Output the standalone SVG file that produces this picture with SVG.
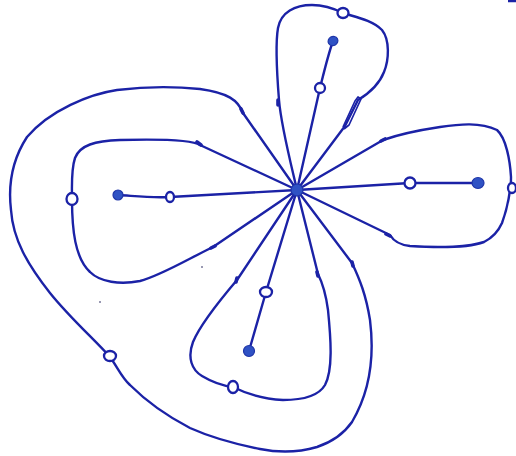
<svg xmlns="http://www.w3.org/2000/svg" width="516" height="456" viewBox="0 0 516 456">
<style>
.e{fill:none;stroke:#1b22a6;stroke-width:2.4;stroke-linecap:round;stroke-linejoin:round}
.d{fill:none;stroke:#1b22a6;stroke-width:1.7;stroke-linejoin:round}
.t{fill:none;stroke:#1b22a6;stroke-width:3.6;stroke-linecap:round}
.h{fill:#ffffff;stroke:#1b22a6;stroke-width:2.3}
.f{fill:#2f52c4;stroke:#1f35a8;stroke-width:1.2}
</style>
<rect width="516" height="456" fill="#ffffff"/>
<g id="connectors">
<path class="e" d="M297,190 C290,160 281,125 279,100 C277,75 275,45 278,28 C281,12 295,5 312,5 C325,5 335,9 343,13 C355,17 372,20 382,30 C390,40 389,60 384,72 C379,85 368,94 358,100 L345,126 L297,190"/>
<path class="d" d="M343,127 L355,101 L358,97 L361,99 L349,125 L344,129"/>
<path class="e" d="M297,190 L200,145 C193,140 160,139 120,140 C95,141 80,145 75,158 C71,170 72,185 72,199 C72,230 75,258 90,272 C100,282 120,285 140,281 C160,276 190,258 213,247 L297,190"/>
<path class="e" d="M297,190 L243,113 C238,100 228,93 200,89 C180,87 150,86 117,90 C90,94 50,110 27,137 C12,160 8,185 11,210 C13,240 28,265 50,293 C70,318 95,340 110,357 C118,368 122,378 130,385 C145,400 165,415 190,428 C210,437 235,444 260,449 C280,453 300,452 317,447 C335,441 345,432 352,422 C368,395 375,360 370,320 C366,295 360,280 352,263 L297,190"/>
<path class="e" d="M297,190 L237,280 C220,300 200,325 193,342 C187,358 192,370 202,376 C212,382 224,386 233,387 C245,393 260,399 283,400 C300,400 318,397 325,385 C333,370 331,340 328,310 C326,295 322,282 318,274 L297,190"/>
<path class="e" d="M297,190 L383,140 C400,134 420,130 440,127 C460,124 480,122 497,130 C506,138 510,160 511,177 C511,183 511,187 510,190 C508,205 505,215 502,223 C498,232 492,238 484,242 C470,247 440,248 410,246 C400,245 393,240 390,235 L297,190"/>
<path class="e" d="M297,190 L320,88 C324,72 328,55 333,41"/>
<path class="e" d="M297,190 L170,197 C150,198 135,196 118,195"/>
<path class="e" d="M297,190 L410,183 L478,183"/>
<path class="e" d="M297,190 L266,292 L249,351"/>
<path class="t" d="M278,100 L278,105 M197,142 L201,145 M211,248 L215,246 M381,141 L385,139 M386,234 L390,236 M317,272 L318,276 M237,278 L236,282 M241,109 L243,113 M352,262 L353,266"/>
<path d="M508,1 L516,1" stroke="#1b22a6" stroke-width="2.5"/>
<circle cx="202" cy="267" r="1" fill="#777799"/>
<circle cx="100" cy="302" r="1" fill="#777799"/>
</g>
<g id="n-center"><circle class="f" cx="297" cy="190" r="6"/></g>
<g id="n-top-hollow"><circle class="h" cx="320" cy="88" r="5"/></g>
<g id="n-top-filled"><ellipse class="f" cx="333" cy="41" rx="5" ry="4.5" transform="rotate(-30 333 41)"/></g>
<g id="n-left-hollow"><ellipse class="h" cx="170" cy="197" rx="4" ry="5"/></g>
<g id="n-left-filled"><circle class="f" cx="118" cy="195" r="5"/></g>
<g id="n-right-hollow"><circle class="h" cx="410" cy="183" r="5.5"/></g>
<g id="n-right-filled"><ellipse class="f" cx="478" cy="183" rx="6" ry="5.5"/></g>
<g id="n-bottom-hollow"><ellipse class="h" cx="266" cy="292" rx="6" ry="5"/></g>
<g id="n-bottom-filled"><circle class="f" cx="249" cy="351" r="5.5"/></g>
<g id="n-top-loop"><ellipse class="h" cx="343" cy="13" rx="5.5" ry="5"/></g>
<g id="n-left-loop"><ellipse class="h" cx="72" cy="199" rx="5.5" ry="6"/></g>
<g id="n-outer-loop"><ellipse class="h" cx="110" cy="356" rx="6" ry="5"/></g>
<g id="n-bottom-loop"><ellipse class="h" cx="233" cy="387" rx="5" ry="6"/></g>
<g id="n-right-loop"><ellipse class="h" cx="512" cy="188" rx="4" ry="5"/></g>
</svg>
